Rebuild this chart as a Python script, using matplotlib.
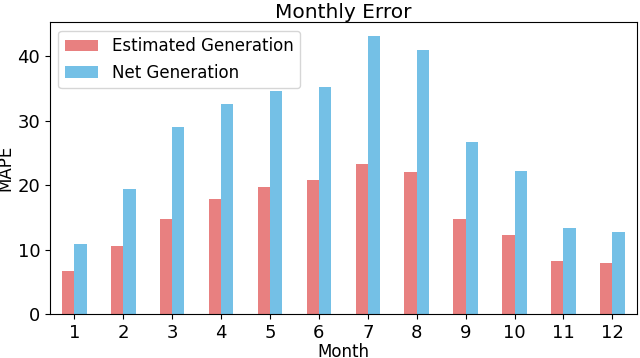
import numpy as np
import matplotlib
matplotlib.use('Agg')
import matplotlib.pyplot as plt

# data
months = list(range(1, 13))
estimated_gen = [6.7, 10.5, 14.8, 17.9, 19.7, 20.8, 23.3, 22.1, 14.8, 12.2, 8.3, 7.9]
net_gen = [10.9, 19.4, 29.0, 32.6, 34.6, 35.3, 43.2, 41.0, 26.7, 22.2, 13.4, 12.8]

RED = '#E88080'
BLUE = '#74C0E6'
W = 0.25

fig = plt.figure(figsize=(6.4, 3.58), dpi=100)
ax = fig.add_axes([0.078, 0.123, 0.917, 0.815])

x = np.array(months)
ax.bar(x - W / 2, estimated_gen, width=W, color=RED, label='Estimated Generation')
ax.bar(x + W / 2, net_gen, width=W, color=BLUE, label='Net Generation')

ax.set_xlim(0.5, 12.5)
ax.set_ylim(0, 45.3)
ax.set_xticks(months)
ax.set_yticks([0, 10, 20, 30, 40])
ax.tick_params(labelsize=13)
ax.set_xlabel('Month', fontsize=12, labelpad=1)
ax.set_ylabel('MAPE', fontsize=12, labelpad=2)
ax.set_title('Monthly Error', fontsize=14.5, pad=3)
ax.legend(loc='upper left', fontsize=12, borderaxespad=0.5)

plt.savefig('out.png', dpi=100)
plt.close()
